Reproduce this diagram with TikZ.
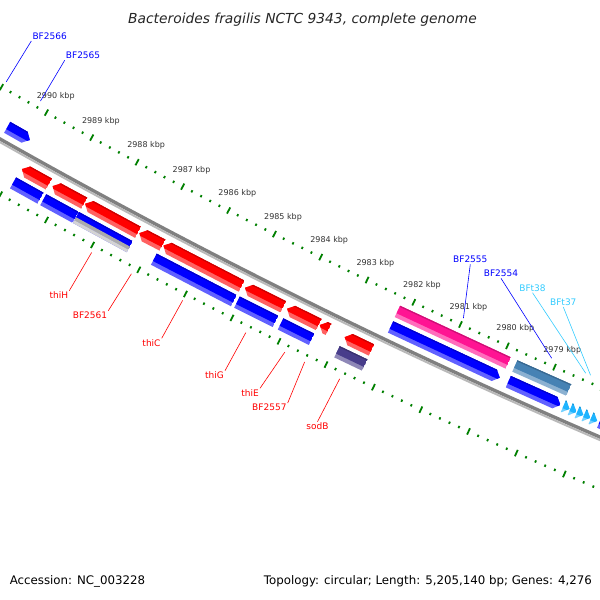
\documentclass[tikz,border=0pt]{standalone}
\usepackage{fontspec}
\setmainfont{DejaVu Sans}
\definecolor{tickgreen}{HTML}{008000}
\definecolor{cdsred}{HTML}{FF0000}
\definecolor{genblue}{HTML}{0000FF}
\definecolor{trnacyan}{HTML}{1EB4FF}
\definecolor{trnalabel}{HTML}{33CCFF}
\definecolor{sodpurple}{HTML}{483D8B}
\definecolor{genepink}{HTML}{FF1493}
\definecolor{genesteel}{HTML}{4682B4}
\definecolor{bbdark}{HTML}{808080}
\definecolor{bblight}{HTML}{B9B9B9}
\begin{document}
\begin{tikzpicture}[x=1pt,y=1pt,
    declare function={ang(\p)=240.75+(2990-\p)*0.479;}]
  \tikzstyle{tick}=[draw=tickgreen,line width=1.8pt]
  \tikzstyle{kbp}=[font=\fontsize{8}{9}\selectfont,text=black!80,inner sep=0pt]
  \tikzstyle{lbl}=[font=\fontsize{9}{10}\selectfont,inner sep=1pt]
  \tikzstyle{revlbl}=[lbl,text=cdsred,anchor=north east]
  \tikzstyle{fwdlbl}=[lbl,text=genblue,anchor=south]
  \tikzstyle{trnalbl}=[lbl,text=trnalabel,anchor=south]
  \tikzstyle{leader}=[line width=0.6pt]
  \useasboundingbox (0,0) rectangle (600,-600);
  \fill[white] (0,0) rectangle (600,-600);
  \clip (0,0) rectangle (600,-600);

  \begin{scope}[shift={(3067,5281)}]
    % backbone
    \draw[bbdark,line width=3.4pt] ({ang(2992)}:6227.8) arc[start angle={ang(2992)},end angle={ang(2975)},radius=6227.8];
    \draw[bblight,line width=2pt] ({ang(2992)}:6230.6) arc[start angle={ang(2992)},end angle={ang(2975)},radius=6230.6];

    % inner and outer ruler
    \foreach \r in {6182,6276}{
      \foreach \k in {2976,...,2991}
        \draw[tick] ({ang(\k)}:{\r-3.5}) -- ({ang(\k)}:{\r+3.5});
      \foreach \k in {2976,...,2990}
        \foreach \m in {0.2,0.4,0.6,0.8}
          \draw[tick] ({ang(\k+\m)}:{\r-1.2}) -- ({ang(\k+\m)}:{\r+1.2});
    }
    \foreach \k in {2979,...,2990}
      \node[kbp] (kbp\k) at ({ang(\k)}:6163) {\k\ kbp};

    % features: 0 = box, 1 = arrow to the right, 2 = arrow to the left
    \foreach \a/\b/\ri/\col/\kind in {
        2989.88/2989.29/6237/cdsred/2, 2989.21/2988.52/6237/cdsred/2,
        2988.50/2987.35/6237/cdsred/2, 2987.32/2986.82/6237/cdsred/2,
        2986.80/2985.11/6237/cdsred/2, 2985.04/2984.22/6237/cdsred/2,
        2984.14/2983.46/6237/cdsred/2, 2983.44/2983.25/6237/cdsred/2,
        2982.91/2982.34/6237/cdsred/2,
        2989.90/2989.30/6253.5/genblue/0, 2989.24/2988.54/6253.5/genblue/0,
        2988.53/2987.36/6253.5/genblue/0, 2986.84/2985.12/6253.5/genblue/0,
        2985.05/2984.23/6253.5/genblue/0, 2984.12/2983.46/6253.5/genblue/0,
        2982.92/2982.33/6253.5/sodpurple/0,
        2990.52/2990.02/6208/genblue/1, 2982.20/2979.88/6208/genblue/1,
        2979.70/2978.60/6208/genblue/1, 2977.78/2975.50/6208/genblue/1,
        2978.54/2978.41/6208/trnacyan/1, 2978.395/2978.265/6208/trnacyan/1,
        2978.25/2978.12/6208/trnacyan/1, 2978.105/2977.975/6208/trnacyan/1,
        2977.96/2977.83/6208/trnacyan/1,
        2982.21/2979.85/6191/genepink/0, 2979.71/2978.57/6191/genesteel/0}{
      \begin{scope}
        \ifcase\kind
          \clip ({ang(\a)}:\ri) -- ({ang(\b)}:\ri) -- ({ang(\b)}:{\ri+12.5}) -- ({ang(\a)}:{\ri+12.5}) -- cycle;
        \or
          \clip ({ang(\a)}:\ri) -- ({ang(\b+0.116)}:\ri) -- ({ang(\b)}:{\ri+6.2}) -- ({ang(\b+0.116)}:{\ri+12.5}) -- ({ang(\a)}:{\ri+12.5}) -- cycle;
        \or
          \clip ({ang(\a)}:{\ri+6.2}) -- ({ang(\a-0.116)}:\ri) -- ({ang(\b)}:\ri) -- ({ang(\b)}:{\ri+12.5}) -- ({ang(\a-0.116)}:{\ri+12.5}) -- cycle;
        \fi
        \fill[\col!62!white] ({ang(\a)}:{\ri-2}) -- ({ang(\b)}:{\ri-2}) -- ({ang(\b)}:{\ri+14}) -- ({ang(\a)}:{\ri+14}) -- cycle;
        \fill[\col] ({ang(\a)}:{\ri-2}) -- ({ang(\b)}:{\ri-2}) -- ({ang(\b)}:{\ri+8.3}) -- ({ang(\a)}:{\ri+8.3}) -- cycle;
        \fill[\col!80!black] ({ang(\a)}:{\ri-2}) -- ({ang(\b)}:{\ri-2}) -- ({ang(\b)}:{\ri+1.2}) -- ({ang(\a)}:{\ri+1.2}) -- cycle;
      \end{scope}
    }
    % thiH gene, lower half grey
    \fill[black!33] ({ang(2988.53)}:6259.5) -- ({ang(2987.36)}:6259.5) -- ({ang(2987.36)}:6263) -- ({ang(2988.53)}:6263) -- cycle;
    \fill[black!17] ({ang(2988.53)}:6263) -- ({ang(2987.36)}:6263) -- ({ang(2987.36)}:6266) -- ({ang(2988.53)}:6266) -- cycle;

    % label anchors on the features
    \foreach \n/\p/\r in {BF2566/2990.97/6175, BF2565/2990.21/6175, BF2555/2981.00/6175,
        BF2554/2979.12/6175, BFt38/2978.40/6175, BFt37/2978.30/6175,
        thiH/2987.95/6283, BF2561/2987.09/6283, thiC/2985.99/6283, thiG/2984.64/6283,
        thiE/2983.81/6283, BF2557/2983.39/6283, sodB/2982.65/6283}
      \coordinate (c\n) at ({ang(\p)}:\r);
  \end{scope}

  % labels
  \node[fwdlbl,anchor=south west] (BF2566) at (31.3,-41) {BF2566};
  \node[fwdlbl,anchor=south west] (BF2565) at (64.7,-60.3) {BF2565};
  \node[fwdlbl] (BF2555) at (470.3,-264.3) {BF2555};
  \node[fwdlbl] (BF2554) at (501,-278.3) {BF2554};
  \node[trnalbl] (BFt38) at (532.5,-292.7) {BFt38};
  \node[trnalbl] (BFt37) at (563.3,-307) {BFt37};
  \node[revlbl] (thiH) at (69.3,-290.7) {thiH};
  \node[revlbl] (BF2561) at (108.3,-310.7) {BF2561};
  \node[revlbl] (thiC) at (161.7,-338.3) {thiC};
  \node[revlbl] (thiG) at (225,-370.7) {thiG};
  \node[revlbl] (thiE) at (260,-388.3) {thiE};
  \node[revlbl] (BF2557) at (287.7,-403) {BF2557};
  \node[revlbl,anchor=north] (sodB) at (317.5,-421.7) {sodB};

  \foreach \n/\anc/\col in {BF2566/south west/genblue, BF2565/south west/genblue,
      BF2555/south/genblue, BF2554/south/genblue, BFt38/south/trnalabel, BFt37/south/trnalabel,
      thiH/north east/cdsred, BF2561/north east/cdsred, thiC/north east/cdsred,
      thiG/north east/cdsred, thiE/north east/cdsred, BF2557/north east/cdsred, sodB/north/cdsred}
    \draw[leader,\col] (c\n) -- (\n.\anc);

  % title and footer
  \node[font=\fontsize{13.8}{15}\selectfont\itshape,text=black!85,anchor=base] (title) at (302.5,-23.3)
    {Bacteroides fragilis NCTC 9343, complete genome};
  \node[font=\fontsize{11.8}{13}\selectfont,inner sep=0pt,anchor=base west] (accession) at (9.6,-584.5)
    {Accession: NC\_003228};
  \node[font=\fontsize{11.8}{13}\selectfont,inner sep=0pt,anchor=base east] (topology) at (592,-584.5)
    {Topology: circular; Length: 5,205,140 bp; Genes: 4,276};
\end{tikzpicture}
\end{document}
